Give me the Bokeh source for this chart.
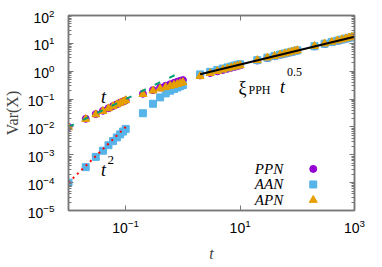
from bokeh.plotting import figure
from bokeh.models import LogAxis, FixedTicker, Label, Range1d, CustomJSTickFormatter
from bokeh.core.properties import value
from bokeh.embed import file_html
from bokeh.resources import INLINE

# ---- data ----
t_vals = [0.01, 0.02, 0.03, 0.04, 0.05, 0.06, 0.07, 0.08, 0.09, 0.1,
          0.2, 0.3, 0.4, 0.5, 0.6, 0.7, 0.8, 0.9, 1.0,
          2, 3, 4, 5, 6, 7, 8, 9, 10,
          20, 30, 40, 50, 60, 70, 80, 90, 100,
          200, 300, 400, 500, 600, 700, 800, 900, 1000]

ppn = [0.0099, 0.0195, 0.029, 0.038, 0.047, 0.056, 0.065, 0.074, 0.082, 0.09,
       0.155, 0.21, 0.26, 0.30, 0.34, 0.38, 0.42, 0.45, 0.48,
       0.70, 0.86, 0.99, 1.11, 1.22, 1.33, 1.43, 1.53, 1.62,
       2.42, 3.0, 3.45, 3.88, 4.25, 4.6, 4.9, 5.2, 5.5,
       7.8, 9.5, 11.0, 12.3, 13.5, 14.6, 15.6, 16.5, 17.4]

aan = [1.0e-4, 3.6e-4, 8.4e-4, 1.4e-3, 2.2e-3, 3.1e-3, 4.2e-3, 5.4e-3, 6.8e-3, 8.5e-3,
       0.031, 0.068, 0.115, 0.16, 0.20, 0.23, 0.26, 0.29, 0.32,
       0.77, 0.95, 1.11, 1.25, 1.37, 1.48, 1.59, 1.69, 1.78,
       2.5, 3.06, 3.55, 3.97, 4.33, 4.68, 5.0, 5.3, 5.6,
       7.9, 9.7, 11.2, 12.5, 13.7, 14.8, 15.8, 16.8, 17.7]

apn = [0.0097, 0.019, 0.028, 0.037, 0.046, 0.055, 0.064, 0.072, 0.081, 0.09,
       0.15, 0.20, 0.235, 0.265, 0.295, 0.32, 0.345, 0.37, 0.40,
       0.66, 0.85, 1.0, 1.13, 1.25, 1.36, 1.46, 1.56, 1.65,
       2.48, 3.05, 3.52, 3.95, 4.32, 4.67, 5.0, 5.3, 5.6,
       8.0, 9.8, 11.3, 12.6, 13.8, 14.9, 16.0, 17.0, 17.9]

xi_pph = 0.55
fit_t = [2, 1000]        # xi_PPH * t^0.5
lin_t = [0.01, 0.8]      # t
quad_t = [0.01, 0.1]     # t^2

series_names = ["PPN", "AAN", "APN"]
colors = ["#9400D3", "#56B4E9", "#E69F00"]
markers = ["circle", "square", "triangle"]
sizes = [7, 7, 8]

y_major = [1e-5, 1e-4, 1e-3, 1e-2, 1e-1, 1e0, 1e1, 1e2]
y_minor = [k * 10.0 ** e for e in range(-5, 2) for k in range(2, 10)]
x_major = [0.1, 10, 1000]

# ---- figure ----
p = figure(width=366, height=264, x_axis_type="log", y_axis_type="log",
           x_range=Range1d(0.01, 1000), y_range=Range1d(1e-5, 100),
           output_backend="svg", toolbar_location=None,
           min_border_left=68, min_border_right=12, min_border_top=15, min_border_bottom=49)
p.xgrid.visible = False
p.ygrid.visible = False
p.outline_line_color = "#777777"
p.outline_line_width = 1.5
p.background_fill_color = "white"
p.border_fill_color = "white"

border_col = "#777777"

def style_axis(ax, show_labels):
    ax.axis_line_color = border_col
    ax.axis_line_width = 1.5
    ax.major_tick_in = 5
    ax.major_tick_out = 0
    ax.minor_tick_in = 3
    ax.minor_tick_out = 0
    ax.major_tick_line_color = border_col
    ax.minor_tick_line_color = border_col
    if show_labels:
        ax.major_label_text_font = "Liberation Sans"
        ax.major_label_text_font_size = "14px"
        ax.major_label_text_color = "black"
    else:
        ax.formatter = CustomJSTickFormatter(code="return ' ';")
        ax.major_label_text_font_size = "1px"
        ax.major_label_standoff = 0

xt = FixedTicker(ticks=x_major, minor_ticks=[])
yt = FixedTicker(ticks=y_major, minor_ticks=y_minor)

p.xaxis.ticker = xt
p.yaxis.ticker = yt
style_axis(p.xaxis[0], True)
style_axis(p.yaxis[0], True)
p.xaxis.major_label_standoff = 8
p.yaxis.major_label_standoff = 14

p.xaxis.axis_label = "t"
p.xaxis.axis_label_text_font = "Liberation Serif"
p.xaxis.axis_label_text_font_style = "italic"
p.xaxis.axis_label_text_font_size = "16px"
p.xaxis.axis_label_standoff = 9
p.yaxis.axis_label = "Var(X)"
p.yaxis.axis_label_text_font = "Liberation Serif"
p.yaxis.axis_label_text_font_style = "normal"
p.yaxis.axis_label_text_font_size = "16px"
p.yaxis.axis_label_standoff = 4

top_ax = LogAxis(ticker=FixedTicker(ticks=x_major, minor_ticks=[]))
right_ax = LogAxis(ticker=FixedTicker(ticks=y_major, minor_ticks=y_minor))
style_axis(top_ax, False)
style_axis(right_ax, False)
p.add_layout(top_ax, "above")
p.add_layout(right_ax, "right")

# ---- data marks ----
data = {"PPN": ppn, "AAN": aan, "APN": apn}
for name, col, mk, sz in zip(series_names, colors, markers, sizes):
    p.scatter(t_vals, data[name], marker=mk, size=sz, fill_color=col, line_color=col)

# ---- guide lines ----
p.line(lin_t, [t for t in lin_t], line_color="#009E73", line_width=2, line_dash="6 10")
p.line(quad_t, [t ** 2 for t in quad_t], line_color="#FF0000", line_width=2, line_dash="2 4")
p.line(fit_t, [xi_pph * t ** 0.5 for t in fit_t], line_color="black", line_width=2)

# ---- annotations ----
serif = "Liberation Serif"
def lab(x, y, text, size, style="normal", align="left", baseline="alphabetic"):
    p.add_layout(Label(x=x, y=y, text=text, text_font=serif, text_font_size=size,
                       text_font_style=style, text_align=align, text_baseline=baseline,
                       text_color="black"))

lab(0.037, 0.115, "t", "18px", "italic")
lab(0.037, 2.9e-4, "t", "18px", "italic")
lab(0.048, 6.6e-4, "2", "13px")
lab(9.4, 0.257, "ξ", "18px")
lab(14.0, 0.214, "PPH", "12px")
lab(50.0, 0.263, "t", "18px", "italic")
lab(66.0, 0.92, "0.5", "12px")

# ---- legend (text left, marker right) ----
leg_text_x = 56.6
leg_mark_x = 190.0
leg_y = [3.12e-4, 8.6e-5, 2.37e-5]
for name, col, mk, sz, yy in zip(series_names, colors, markers, sizes, leg_y):
    lab(leg_text_x, yy, name, "15px", "italic", align="right", baseline="middle")
    p.scatter([leg_mark_x], [yy], marker=mk, size=sz, fill_color=col, line_color=col)

open("out.html", "w").write(file_html(p, INLINE))
